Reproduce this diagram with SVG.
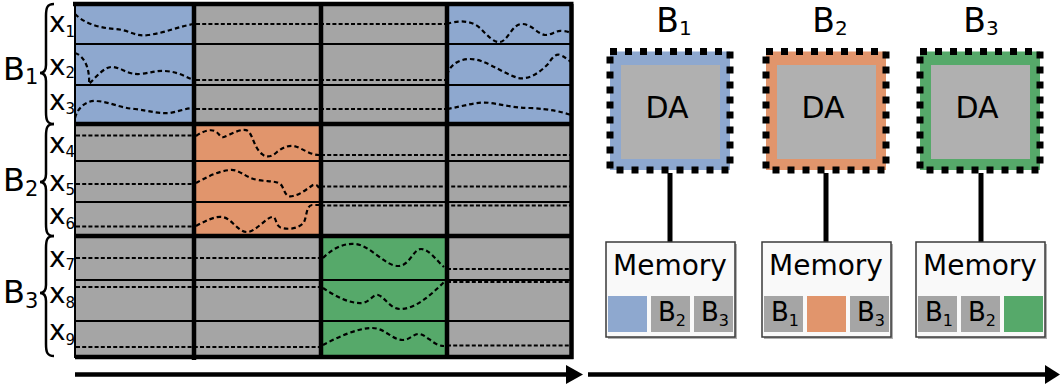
<svg xmlns="http://www.w3.org/2000/svg" width="1060" height="391" viewBox="0 0 1060 391">
<style>
text{font-family:"DejaVu Sans","Liberation Sans",sans-serif;fill:#000}
.gray{fill:#a5a5a5}
.blue{fill:#8ea8cf}
.orange{fill:#e1956c}
.green{fill:#56a96a}
.dash{fill:none;stroke:#000;stroke-width:2;stroke-dasharray:4 2.2}
.wave{fill:none;stroke:#000;stroke-width:2.2;stroke-dasharray:4.5 3}
.thin{stroke:#000;stroke-width:2}
.thick{stroke:#000;stroke-width:4.5}
.brace{fill:none;stroke:#000;stroke-width:2.5}
.lbl{font-size:32px}
.ttl{font-size:33px}
.xl{font-size:28px}
.sub{font-size:15px}
.da{stroke:#000;stroke-width:7;stroke-dasharray:7 8}
.inner{fill:#b0b0b0}
.mem{fill:#f9f9f9;stroke:#3a3a3a;stroke-width:1.5}
.shadow{fill:#b0b0b0}
.link{stroke:#000;stroke-width:5}
.datxt{font-size:30px}
.memtxt{font-size:28px}
.sq{font-size:26px}
</style>

<g id="matrix">
<rect class="gray" x="75" y="4" width="497" height="353"/>
<rect class="blue" x="75" y="4" width="119" height="120"/>
<rect class="blue" x="447" y="4" width="125" height="120"/>
<rect class="orange" x="194" y="124" width="127" height="112"/>
<rect class="green" x="321" y="236" width="126" height="121"/>
<g id="signals">
<path class="wave" d="M75,14 C85,24 100,28 115,29 C130,30 135,37 148,35 C165,33 180,26 194,24"/>
<path class="wave" d="M75,53 C85,56 90,70 89,84 C97,76 105,66 113,67 C122,68 128,75 140,74 C150,73 158,70 165,71 C180,72 187,78 194,80"/>
<path class="wave" d="M75,118 C78,106 88,100 97,101 C110,102 120,108 135,109 C150,111 160,114 170,113 C180,111 187,108 194,108"/>
<path class="dash" d="M196,24 H445 M196,80 H445 M196,109 H445"/>
<path class="wave" d="M447,24 C455,21 470,19 480,28 C488,36 494,43 500,42 C508,41 512,24 522,24 C532,24 538,35 546,35 C552,35 556,30 562,31 C566,31 569,32 571,33"/>
<path class="wave" d="M447,75 C450,64 460,59 470,59 C485,59 500,72 518,78 C530,80 540,72 548,64 C552,58 556,53 560,55 C565,57 568,60 571,62"/>
<path class="wave" d="M447,109 C465,106 478,101 490,103 C505,105 515,108 530,108 C550,109 562,112 571,115"/>
<path class="dash" d="M76,135.5 H193 M76,184 H193 M76,226.5 H193"/>
<path class="wave" d="M196,136 C203,131 210,129 215,131 C219,133 220,138 224,137 C230,135 242,127 248,131 C253,135 254,148 262,154 C266,158 272,157 277,152 C282,148 288,145 294,146 C302,148 310,155 319,155"/>
<path class="wave" d="M196,183 C205,178 218,171 230,170 C240,169 245,178 258,180 C268,182 278,180 282,186 C285,192 286,198 293,196 C300,195 308,188 313,185 C316,184 318,186 319,188"/>
<path class="wave" d="M196,226 C205,221 215,216 222,217 C232,218 238,233 248,232 C256,231 266,218 272,217 C277,216 275,227 282,228 C290,230 300,228 304,222 C307,216 306,206 312,205 C315,205 317,205 319,205"/>
<path class="dash" d="M321,155 H571 M321,186.5 H571 M321,205.5 H571"/>
<path class="dash" d="M76,258 H321 M76,287 H321 M76,347 H321"/>
<path class="wave" d="M323,258 C332,249 343,243 355,244 C370,245 385,266 398,266 C410,266 413,249 421,249 C429,249 436,260 444,267"/>
<path class="wave" d="M323,288 C335,296 350,304 362,303 C370,302 373,294 378,295 C385,297 390,309 400,309 C415,309 430,296 444,282"/>
<path class="wave" d="M323,345 C338,337 358,328 372,328 C385,328 392,340 403,340 C410,340 414,333 420,334 C428,336 434,346 444,346"/>
<path class="dash" d="M447,269 H571 M447,282 H571 M447,345.5 H571"/>
</g>
<path class="thin" d="M75,44 H572 M75,85 H572 M75,161 H572 M75,202 H572 M75,280 H572 M75,321 H572"/>
<path class="thick" d="M75,124 H572 M75,236 H572"/>
<path class="thick" d="M194,4 V360 M321,4 V357 M447,4 V357"/>
<path class="thick" d="M73,4 H573.5 M571.5,4 V359 M75,357 H573.5"/>
<path class="thin" d="M75,4 V358"/>
</g>

<g id="row-labels">
<text class="lbl" x="3" y="80">B<tspan font-size="21px" dy="4">1</tspan></text>
<text class="lbl" x="3" y="191">B<tspan font-size="21px" dy="5">2</tspan></text>
<text class="lbl" x="3" y="303">B<tspan font-size="21px" dy="5">3</tspan></text>
<path class="brace" d="M54,4 C47,4 46,8 46,16 L46,65 C46,70 44,73 40,73 C44,73 46,76 46,81 L46,112 C46,120 47,124 54,124"/>
<path class="brace" d="M54,124 C47,124 46,128 46,136 L46,174 C46,179 44,182 40,182 C44,182 46,185 46,190 L46,224 C46,232 47,236 54,236"/>
<path class="brace" d="M54,236 C47,236 46,240 46,248 L46,285 C46,290 44,293 40,293 C44,293 46,296 46,301 L46,344 C46,352 47,356 54,356"/>
<text class="xl" x="49" y="32">x<tspan class="sub" dy="5">1</tspan></text>
<text class="xl" x="49" y="75">x<tspan class="sub" dy="3">2</tspan></text>
<text class="xl" x="49" y="110">x<tspan class="sub" dy="4">3</tspan></text>
<text class="xl" x="49" y="153">x<tspan class="sub" dy="4">4</tspan></text>
<text class="xl" x="49" y="191">x<tspan class="sub" dy="4">5</tspan></text>
<text class="xl" x="49" y="224">x<tspan class="sub" dy="5">6</tspan></text>
<text class="xl" x="49" y="267">x<tspan class="sub" dy="3">7</tspan></text>
<text class="xl" x="49" y="303">x<tspan class="sub" dy="5">8</tspan></text>
<text class="xl" x="49" y="340">x<tspan class="sub" dy="5">9</tspan></text>
</g>

<g id="connectors">
<line class="link" x1="670" y1="173" x2="670" y2="242"/>
<line class="link" x1="826" y1="173" x2="826" y2="242"/>
<line class="link" x1="981" y1="173" x2="981" y2="242"/>
<line x1="75" y1="374.5" x2="567" y2="374.5" stroke="#000" stroke-width="4.5"/>
<polygon points="566,365 583,374.5 566,384" fill="#000"/>
<line x1="588" y1="374.5" x2="1047" y2="374.5" stroke="#000" stroke-width="4.5"/>
<polygon points="1045,365 1060,374.5 1045,384" fill="#000"/>
</g>

<g id="da-b1">
<text class="ttl" x="674" y="32" text-anchor="middle">B<tspan font-size="20px" dy="3">1</tspan></text>
<rect class="blue da" x="610" y="51.5" width="120" height="118.5"/>
<rect class="inner" x="621" y="65" width="99" height="94"/>
<text class="datxt" x="667" y="118" text-anchor="middle">DA</text>
</g>
<g id="da-b2">
<text class="ttl" x="830" y="32" text-anchor="middle">B<tspan font-size="20px" dy="3">2</tspan></text>
<rect class="orange da" x="766" y="51.5" width="120" height="118.5"/>
<rect class="inner" x="777" y="65" width="99" height="94"/>
<text class="datxt" x="823" y="118" text-anchor="middle">DA</text>
</g>
<g id="da-b3">
<text class="ttl" x="981" y="32" text-anchor="middle">B<tspan font-size="20px" dy="3">3</tspan></text>
<rect class="green da" x="920" y="51.5" width="120" height="118.5"/>
<rect class="inner" x="931" y="65" width="99" height="94"/>
<text class="datxt" x="977" y="118" text-anchor="middle">DA</text>
</g>

<g id="mem-b1">
<rect class="shadow" x="608" y="244" width="129" height="95"/>
<rect class="mem" x="606" y="242" width="129" height="95"/>
<text class="memtxt" x="670" y="275" text-anchor="middle">Memory</text>
<rect class="blue" x="608" y="296" width="39" height="36"/>
<rect class="gray" x="651" y="296" width="39" height="36"/>
<rect class="gray" x="694" y="296" width="39" height="36"/>
<text class="sq" x="672" y="321" text-anchor="middle">B<tspan font-size="16px" dy="5">2</tspan></text>
<text class="sq" x="715" y="321" text-anchor="middle">B<tspan font-size="16px" dy="5">3</tspan></text>
</g>
<g id="mem-b2">
<rect class="shadow" x="764" y="244" width="129" height="95"/>
<rect class="mem" x="762" y="242" width="129" height="95"/>
<text class="memtxt" x="826" y="275" text-anchor="middle">Memory</text>
<rect class="gray" x="764" y="296" width="39" height="36"/>
<rect class="orange" x="807" y="296" width="39" height="36"/>
<rect class="gray" x="850" y="296" width="39" height="36"/>
<text class="sq" x="785" y="321" text-anchor="middle">B<tspan font-size="16px" dy="5">1</tspan></text>
<text class="sq" x="871" y="321" text-anchor="middle">B<tspan font-size="16px" dy="5">3</tspan></text>
</g>
<g id="mem-b3">
<rect class="shadow" x="918" y="244" width="129" height="95"/>
<rect class="mem" x="916" y="242" width="129" height="95"/>
<text class="memtxt" x="980" y="275" text-anchor="middle">Memory</text>
<rect class="gray" x="918" y="296" width="39" height="36"/>
<rect class="gray" x="961" y="296" width="39" height="36"/>
<rect class="green" x="1004" y="296" width="39" height="36"/>
<text class="sq" x="939" y="321" text-anchor="middle">B<tspan font-size="16px" dy="5">1</tspan></text>
<text class="sq" x="982" y="321" text-anchor="middle">B<tspan font-size="16px" dy="5">2</tspan></text>
</g>
</svg>
